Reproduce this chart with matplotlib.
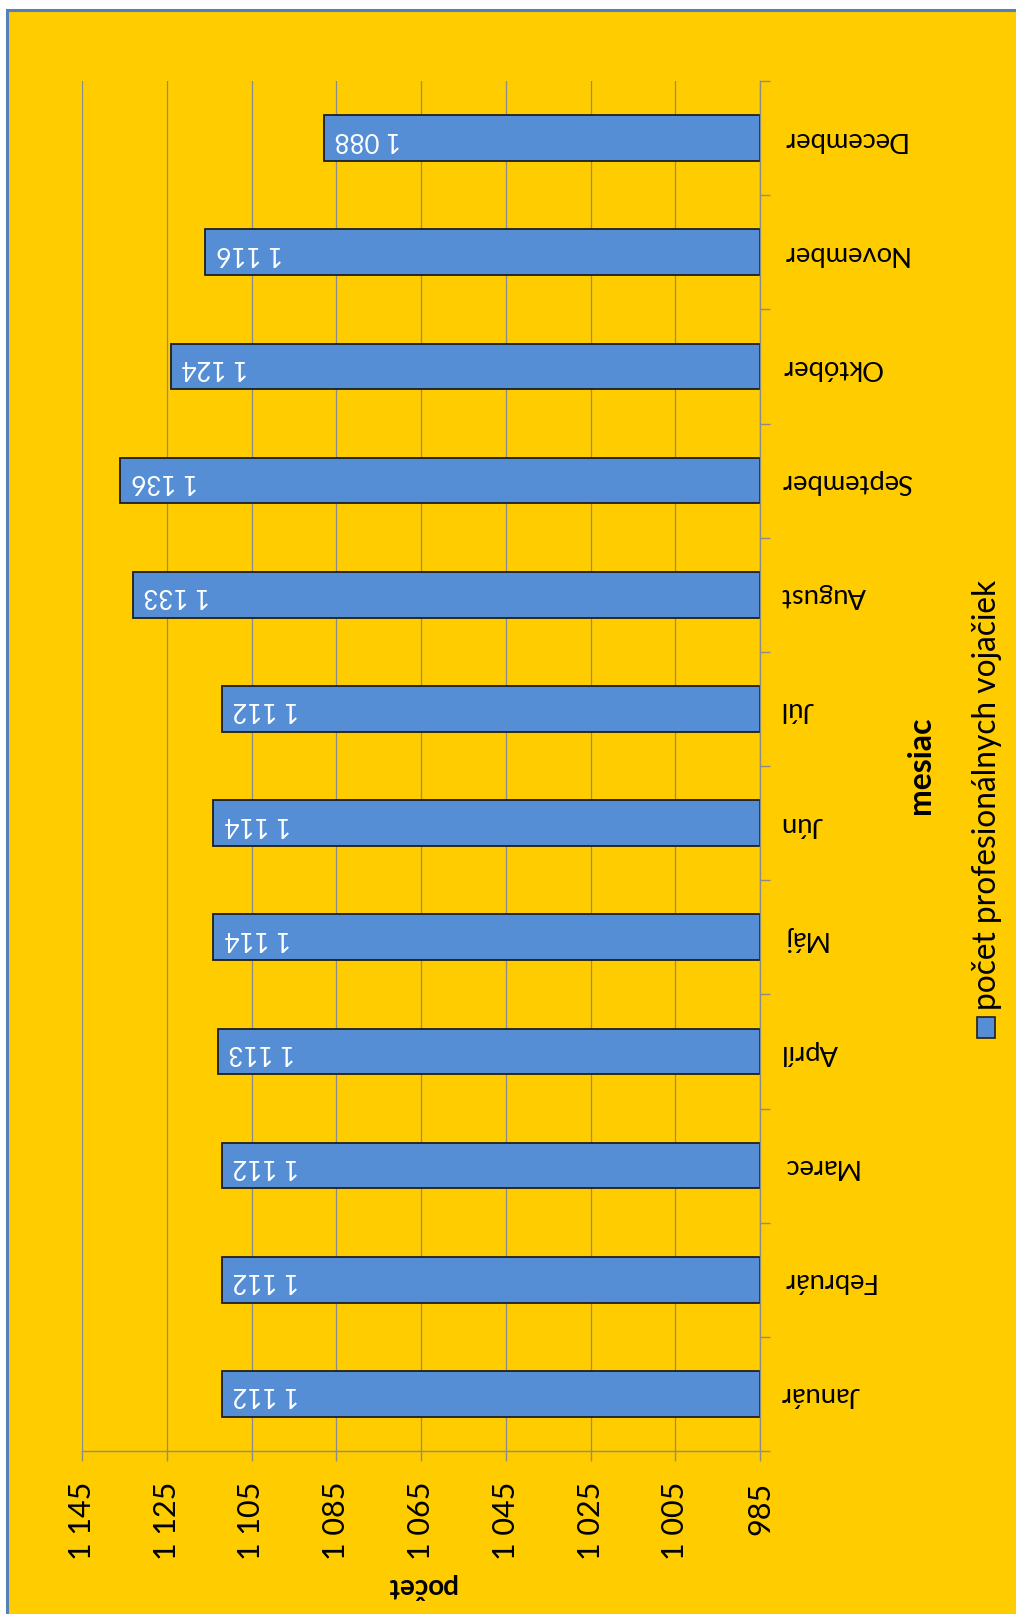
import matplotlib
matplotlib.use('Agg')
import matplotlib.pyplot as plt
from matplotlib.patches import Rectangle
import numpy as np

# ---- data ----
months = ['Január', 'Február', 'Marec', 'Apríl', 'Máj', 'Jún', 'Júl',
          'August', 'September', 'Október', 'November', 'December']
values = [1112, 1112, 1112, 1113, 1114, 1114, 1112, 1133, 1136, 1124, 1116, 1088]
xticks = [985, 1005, 1025, 1045, 1065, 1085, 1105, 1125, 1145]
xtick_labels = ['985', '1 005', '1 025', '1 045', '1 065', '1 085', '1 105', '1 125', '1 145']
series_name = 'počet profesionálnych vojačiek'
value_title = 'počet'
category_title = 'mesiac'

plt.rcParams['font.family'] = ['Lato', 'DejaVu Sans']

W, H = 1016, 1615
fig = plt.figure(figsize=(W / 100, H / 100), dpi=100, facecolor='white')

def fx(px):
    return px / W

def fy(py):
    return 1 - py / H

# background panel with blue border
fig.patches.append(Rectangle((fx(7), -0.1), 2, fy(10.5) + 0.1, transform=fig.transFigure,
                             facecolor='#FFCC00', edgecolor='#5681B8', lw=2.2, zorder=-10))

left, right, top, bottom = 82, 760, 82, 1452
ax = fig.add_axes([fx(left), fy(bottom), fx(right - left), (bottom - top) / H])
ax.set_facecolor('none')
ax.set_zorder(1)

grey = '#8C8C8C'
y = np.arange(len(months))
base = xticks[0]
bars = ax.barh(y, np.array(values) - base, left=base, height=0.4, color='#558ED5',
               edgecolor='#1f1f1f', lw=1.3, zorder=3)

ax.set_xlim(xticks[-1], xticks[0])
ax.set_ylim(-0.5, len(months) - 0.5)

for s in ['left', 'top']:
    ax.spines[s].set_visible(False)
for s in ['right', 'bottom']:
    ax.spines[s].set_color(grey)
    ax.spines[s].set_linewidth(1.0)
    ax.spines[s].set_zorder(4)

ax.xaxis.grid(True, color=grey, lw=0.9, zorder=0)
ax.set_axisbelow(True)

ax.set_xticks(xticks, labels=xtick_labels, rotation=90, fontsize=22)
ax.tick_params(axis='x', direction='out', length=7.5, width=1.0, color=grey, pad=14)

ax.yaxis.tick_right()
ax.set_yticks(y, labels=months, rotation=180, ha='left', va='center', fontsize=19.7)
ax.set_yticks(np.arange(-0.5, len(months)), minor=True)
ax.tick_params(axis='y', which='major', length=0, pad=15, right=True, left=False)
ax.tick_params(axis='y', which='minor', length=7.5, width=1.0, color=grey,
               direction='out', right=True, left=False)

for yi, v in zip(y, values):
    ax.annotate(f'{v:,}'.replace(',', ' '), xy=(v, yi), xytext=(11, 0),
                textcoords='offset pixels', ha='left', va='center', rotation=180,
                color='white', fontsize=18.5, zorder=5)

fig.text(fx(421), fy(1586), value_title, rotation=180, ha='center', va='center',
         fontweight='bold', fontsize=20)
fig.text(fx(920), fy(765), category_title, rotation=90, ha='center', va='center',
         fontweight='bold', fontsize=23)

# legend (manual, rotated)
fig.patches.append(Rectangle((fx(977), fy(1039)), fx(18), 21 / H, transform=fig.transFigure,
                             facecolor='#558ED5', edgecolor='#1f1f1f', lw=1.2, zorder=2))
fig.text(fx(987), fy(1010), series_name, rotation=90, ha='center', va='bottom', fontsize=22.8)

fig.savefig('out.png', dpi=100, facecolor=fig.get_facecolor())
